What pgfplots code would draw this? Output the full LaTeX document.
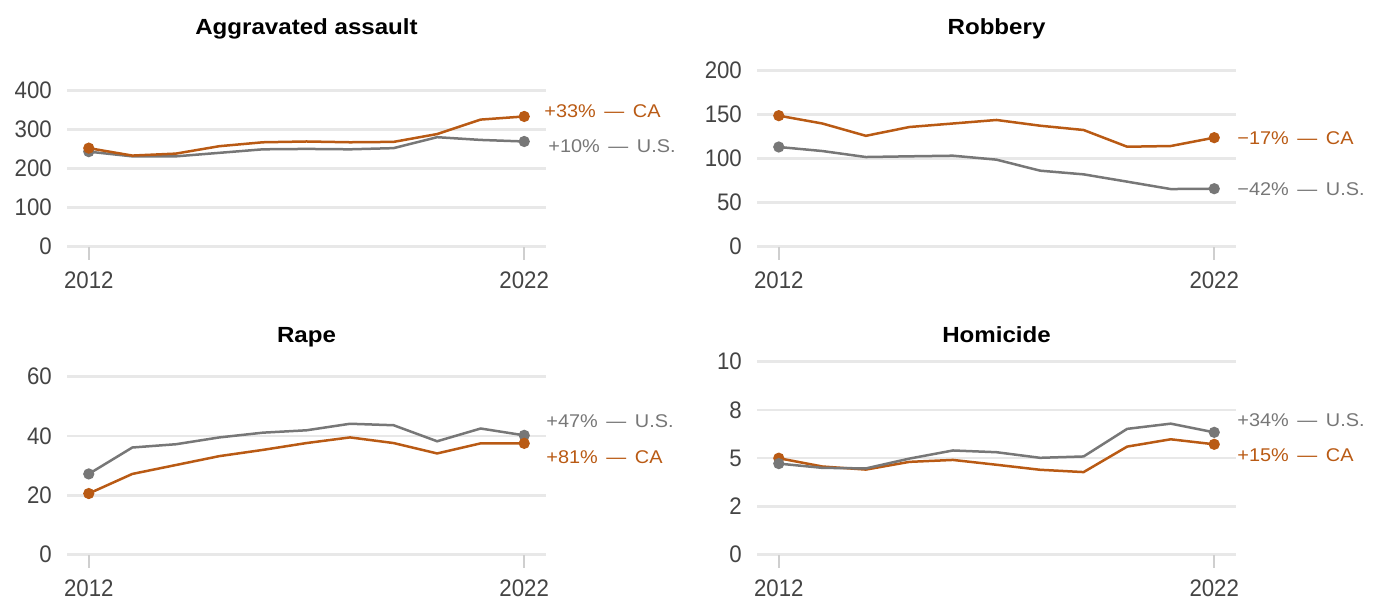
\documentclass[border=0pt]{standalone}
\usepackage{pgfplots}
\pgfplotsset{compat=1.18}
\usepackage{fontspec}
\setmainfont{Liberation Sans}
\newfontfamily\labfont[FakeStretch=1.08]{Liberation Sans}
\newfontfamily\tickfont[FakeStretch=0.93]{Liberation Sans}
\newfontfamily\ttlfont[FakeStretch=1.1]{Liberation Sans Bold}
\definecolor{caor}{HTML}{B95A14}
\definecolor{usgr}{HTML}{777777}
\definecolor{gridc}{HTML}{E8E8E8}
\definecolor{tickc}{HTML}{CFCFCF}
\definecolor{txt}{HTML}{444444}
\tikzset{
  lab/.style={anchor=west, inner sep=0pt, font=\labfont\fontsize{18.5}{18.5}\selectfont},
  ttl/.style={anchor=base, font=\ttlfont\fontsize{22}{22}\selectfont},
}
\pgfplotsset{
  panel/.style={
    scale only axis, width=479bp,
    xmin=2011.5, xmax=2022.5,
    axis line style={draw=none},
    ymajorgrids, major grid style={color=gridc, line width=2.5bp},
    xtick={2012,2022}, xticklabels={2012,2022},
    xtick pos=lower, ytick pos=left,
    tick align=outside,
    major tick length=13bp,
    x tick style={color=tickc, line width=2bp},
    y tick style={draw=none},
    tick label style={font=\tickfont\fontsize{24}{24}\selectfont, text=txt},
    xticklabel style={inner sep=0pt, yshift=-12bp},
    yticklabel style={inner sep=0pt, anchor=east, xshift=-2bp},
    clip=false,
  },
  us/.style={color=usgr, line width=2.5bp, mark=*, mark size=4.3bp, mark indices={1,11}, mark options={solid}},
  ca/.style={color=caor, line width=2.5bp, mark=*, mark size=4.3bp, mark indices={1,11}, mark options={solid}},
}
\begin{document}
\begin{tikzpicture}
\useasboundingbox (0,0) rectangle (1377bp,601bp);
% Panel 1
\begin{axis}[panel, at={(67bp,354.3bp)}, anchor=south west, height=176bp,
  ymin=0, ymax=450, ytick={0,100,200,300,400}, yticklabels={0,100,200,300,400}]
\addplot[us] coordinates {(2012,243) (2013,231) (2014,231) (2015,240) (2016,249) (2017,250) (2018,249) (2019,252) (2020,280) (2021,273) (2022,269)};
\addplot[ca] coordinates {(2012,252) (2013,233) (2014,238) (2015,257) (2016,267) (2017,269) (2018,267) (2019,268) (2020,288) (2021,325) (2022,333)};
\node[lab, text=caor, xshift=20bp, yshift=5bp] at (axis cs:2022,333) {+33\% \,—\, CA};
\node[lab, text=usgr, xshift=24bp, yshift=-5bp] at (axis cs:2022,269) {+10\% \,—\, U.S.};
\end{axis}
% Panel 2
\begin{axis}[panel, at={(757bp,354.3bp)}, anchor=south west, height=176bp,
  ymin=0, ymax=200, ytick={0,50,100,150,200}, yticklabels={0,50,100,150,200}]
\addplot[us] coordinates {(2012,113.3) (2013,108.7) (2014,101.9) (2015,102.7) (2016,103.4) (2017,98.9) (2018,86.4) (2019,82.2) (2020,73.9) (2021,65.5) (2022,65.9)};
\addplot[ca] coordinates {(2012,148.9) (2013,140) (2014,126) (2015,136) (2016,140) (2017,144) (2018,137.5) (2019,132.6) (2020,113.6) (2021,114.4) (2022,123.9)};
\node[lab, text=caor, xshift=23bp] at (axis cs:2022,123.9) {−17\% \,—\, CA};
\node[lab, text=usgr, xshift=23bp] at (axis cs:2022,65.9) {−42\% \,—\, U.S.};
\end{axis}
% Panel 3
\begin{axis}[panel, at={(67bp,46.3bp)}, anchor=south west, height=193bp,
  ymin=0, ymax=65, ytick={0,20,40,60}, yticklabels={0,20,40,60}]
\addplot[us] coordinates {(2012,27.2) (2013,36.1) (2014,37.2) (2015,39.5) (2016,41.1) (2017,41.9) (2018,44.1) (2019,43.6) (2020,38.2) (2021,42.5) (2022,40.2)};
\addplot[ca] coordinates {(2012,20.6) (2013,27.2) (2014,30.2) (2015,33.2) (2016,35.3) (2017,37.6) (2018,39.5) (2019,37.6) (2020,34.1) (2021,37.5) (2022,37.5)};
\node[lab, text=usgr, xshift=22bp, yshift=14bp] at (axis cs:2022,40.2) {+47\% \,—\, U.S.};
\node[lab, text=caor, xshift=22bp, yshift=-14bp] at (axis cs:2022,37.5) {+81\% \,—\, CA};
\end{axis}
% Panel 4
\begin{axis}[panel, at={(757bp,46.3bp)}, anchor=south west, height=193bp,
  ymin=0, ymax=10, ytick={0,2.5,5,7.5,10}, yticklabels={0,2,5,8,10}]
\addplot[ca] coordinates {(2012,5.0) (2013,4.57) (2014,4.41) (2015,4.81) (2016,4.91) (2017,4.66) (2018,4.4) (2019,4.28) (2020,5.6) (2021,5.98) (2022,5.72)};
\addplot[us] coordinates {(2012,4.72) (2013,4.5) (2014,4.47) (2015,4.98) (2016,5.4) (2017,5.31) (2018,5.02) (2019,5.09) (2020,6.52) (2021,6.79) (2022,6.34)};
\node[lab, text=usgr, xshift=23bp, yshift=12bp] at (axis cs:2022,6.34) {+34\% \,—\, U.S.};
\node[lab, text=caor, xshift=23bp, yshift=-11bp] at (axis cs:2022,5.72) {+15\% \,—\, CA};
\end{axis}
% Titles
\node[ttl] at (306.5bp,566.5bp) {Aggravated assault};
\node[ttl] at (996.5bp,566.5bp) {Robbery};
\node[ttl] at (306.5bp,258.5bp) {Rape};
\node[ttl] at (996.5bp,258.5bp) {Homicide};
\end{tikzpicture}
\end{document}
